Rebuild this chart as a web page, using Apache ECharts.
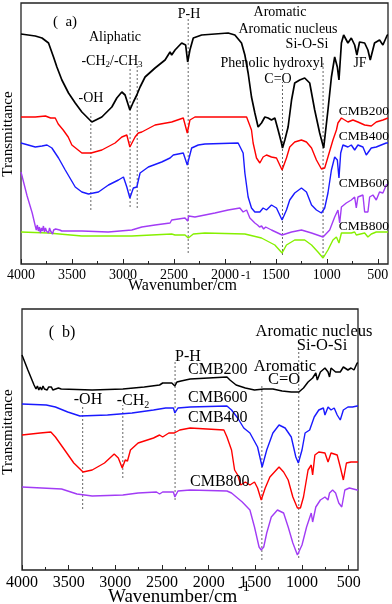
<!DOCTYPE html>
<html><head><meta charset="utf-8">
<script src="https://cdn.jsdelivr.net/npm/echarts/dist/echarts.min.js"></script>
<style>html,body{margin:0;padding:0;background:#fff}#c{width:392px;height:604px}</style>
</head><body><div id="c"></div>
<script>
// ---------- axis ticks ----------
const tickLabels = [4000, 3500, 3000, 2500, 2000, 1500, 1000, 500];
const minorTicks = [3750, 3250, 2750, 2250, 1750, 1250, 750];

// ---------- panel (a) ----------
const aJF = [[4000,230],[3860,228],[3794,226],[3730,221],[3681,207],[3648,197],[3599,184],[3534,171],[3468,161],[3403,152],[3305,142],[3207,147],[3109,157],[3060,166],[3011,172],[2979,169],[2932,154],[2898,162],[2864,169],[2832,177],[2783,187],[2685,196],[2587,204],[2538,212],[2522,209],[2489,214],[2424,221],[2385,219],[2365,202],[2343,214],[2310,226],[2228,229],[1968,231],[1902,229],[1837,221],[1804,209],[1772,191],[1739,167],[1706,151],[1674,137],[1641,141],[1608,147],[1576,146],[1543,144],[1510,146],[1478,134],[1445,121],[1435,116],[1412,124],[1380,137],[1346,164],[1315,181],[1266,184],[1217,186],[1168,181],[1119,154],[1070,131],[1031,116],[989,154],[955,187],[923,207],[897,197],[881,184],[857,221],[835,229],[793,221],[760,226],[727,219],[705,209],[679,222],[629,221],[597,214],[574,204],[532,221],[483,224],[450,219],[407,229],[400,229]];
const aCMB200 = [[4000,147],[3860,147],[3760,148],[3710,146],[3664,146],[3635,140],[3586,134],[3537,127],[3501,119],[3403,111],[3312,111],[3207,114],[3077,121],[3011,127],[2962,129],[2932,117],[2881,127],[2849,131],[2815,132],[2685,139],[2522,142],[2408,146],[2369,131],[2343,144],[2294,147],[1787,147],[1739,134],[1723,121],[1690,106],[1657,101],[1625,107],[1592,109],[1543,107],[1494,106],[1439,94],[1396,106],[1364,117],[1315,122],[1249,124],[1200,122],[1150,116],[1102,104],[1053,95],[1021,96],[989,107],[940,124],[906,134],[891,141],[857,146],[793,142],[744,144],[695,142],[629,139],[564,138],[515,142],[450,144],[400,146]];
const aCMB400 = [[4000,121],[3860,117],[3794,118],[3745,119],[3697,116],[3632,106],[3566,94],[3468,77],[3403,72],[3338,70],[3240,72],[3142,79],[3044,84],[2995,87],[2962,77],[2932,66],[2898,76],[2864,77],[2832,91],[2751,97],[2620,102],[2538,106],[2506,109],[2408,111],[2369,99],[2326,116],[2261,119],[2196,120],[1870,121],[1821,111],[1804,91],[1772,67],[1739,56],[1706,52],[1657,52],[1625,56],[1592,54],[1543,59],[1494,56],[1439,44],[1396,54],[1364,64],[1315,71],[1249,76],[1200,72],[1150,59],[1102,54],[1053,51],[1021,56],[989,71],[955,94],[923,107],[897,104],[881,86],[864,111],[842,119],[793,117],[760,119],[727,114],[695,119],[646,117],[613,109],[564,116],[515,117],[467,119],[417,121],[400,121]];
const aCMB600 = [[4000,92],[3940,68],[3890,51],[3860,38],[3850,34],[3840,39],[3830,33],[3820,37],[3810,31],[3800,36],[3790,33],[3780,38],[3770,32],[3760,36],[3750,33],[3740,35],[3730,31],[3720,36],[3710,33],[3700,35],[3690,30],[3680,34],[3670,32],[3660,35],[3650,33],[3620,34],[3600,33],[3403,33],[3145,32],[2913,34],[2815,37],[2685,39],[2538,41],[2522,44],[2391,46],[2365,43],[2355,48],[2343,49],[2294,47],[2098,51],[1968,54],[1853,56],[1821,52],[1787,54],[1755,46],[1706,41],[1680,39],[1660,37],[1640,38],[1620,35],[1600,37],[1543,34],[1439,29],[1346,32],[1249,34],[1150,31],[1037,27],[972,34],[923,47],[891,54],[874,41],[857,57],[809,61],[760,64],[727,67],[711,56],[695,67],[646,69],[629,52],[597,52],[580,67],[548,69],[515,64],[483,72],[450,71],[417,79],[400,80]];
const aCMB800 = [[4000,32],[3733,31],[3403,28],[2913,28],[2522,30],[2489,29],[2391,29],[2359,26],[2310,30],[2196,31],[1804,30],[1641,26],[1510,19],[1439,11],[1396,19],[1315,24],[1217,24],[1150,19],[1087,12],[1037,6],[989,14],[940,24],[906,27],[881,21],[857,31],[760,31],[727,32],[711,29],[629,31],[597,27],[564,30],[515,32],[400,32]];
const aBands = [[3315,54,151],[2930,57,197],[2860,56,199],[2360,11,246],[1435,9,182],[1037,7,202]];

// ---------- panel (b) ----------
const bCMB200 = [[4000,215],[3937,200],[3871,185],[3850,181],[3835,184],[3820,180],[3805,183],[3790,180],[3775,184],[3760,181],[3745,183],[3730,180],[3715,183],[3700,181],[3685,183],[3670,180],[3655,182],[3640,181],[3610,182],[3580,181],[3248,180],[2919,181],[2690,183],[2526,185],[2493,187],[2395,187],[2362,184],[2340,188],[2296,189],[2198,191],[1804,193],[1772,190],[1706,185],[1607,182],[1509,180],[1410,181],[1312,181],[1213,179],[1115,178],[1033,178],[984,182],[935,188],[886,192],[852,197],[836,190],[803,198],[754,202],[721,198],[705,193],[689,202],[640,198],[590,198],[557,203],[508,200],[475,202],[443,200],[409,207],[400,207]];
const bCMB600 = [[4000,166],[3740,165],[3642,163],[3510,158],[3379,154],[3084,155],[2821,157],[2591,160],[2461,162],[2378,162],[2362,157],[2329,162],[2198,163],[1804,164],[1755,160],[1689,152],[1624,142],[1558,137],[1476,123],[1427,103],[1378,120],[1312,137],[1246,145],[1181,142],[1115,133],[1066,113],[1039,107],[1000,120],[967,137],[918,140],[869,153],[820,160],[771,162],[754,155],[721,163],[689,160],[655,162],[623,155],[590,150],[557,160],[508,163],[459,163],[409,164],[400,164]];
const bCMB400 = [[4000,135],[3805,137],[3691,138],[3642,133],[3543,120],[3445,107],[3346,98],[3248,100],[3116,107],[3012,116],[2968,112],[2926,102],[2894,110],[2870,109],[2838,120],[2756,127],[2591,132],[2526,135],[2493,133],[2427,137],[2368,137],[2362,135],[2310,140],[2198,142],[1837,140],[1804,133],[1755,120],[1722,100],[1689,95],[1656,85],[1607,88],[1558,85],[1509,88],[1476,82],[1437,70],[1394,82],[1344,93],[1295,98],[1246,103],[1197,98],[1148,90],[1098,73],[1049,62],[1017,62],[984,73],[935,100],[901,105],[886,95],[862,115],[820,118],[754,117],[721,108],[689,117],[623,115],[590,103],[557,90],[524,107],[475,108],[400,108]];
const bCMB800 = [[4000,83],[3576,81],[3411,76],[3248,74],[2919,75],[2756,77],[2559,78],[2526,76],[2493,78],[2378,78],[2362,73],[2329,79],[2198,80],[1804,79],[1755,77],[1640,68],[1558,60],[1509,43],[1460,23],[1437,20],[1410,23],[1378,37],[1329,53],[1263,60],[1197,57],[1148,43],[1098,27],[1049,15],[1000,25],[951,43],[901,57],[886,48],[852,63],[803,70],[754,73],[721,70],[705,77],[672,80],[640,77],[606,67],[574,63],[541,80],[492,82],[409,80],[400,80]];
const bBands = [[3350,61,165],[2920,92,165],[2360,70,208],[1430,10,185],[1035,12,218]];

// ---------- build ----------
const FF = '"Liberation Serif","Times New Roman",serif';
const chart = echarts.init(document.getElementById('c'), null, {renderer: 'canvas'});

function mainX(gi, fs, margin) {
  return {type: 'value', gridIndex: gi, min: 400, max: 4000, inverse: true,
    axisLine: {show: false}, splitLine: {show: false},
    axisTick: {show: true, inside: true, length: 5, customValues: tickLabels, lineStyle: {color: '#222', width: 1}},
    axisLabel: {show: true, customValues: tickLabels, formatter: v => String(v), color: '#000', fontSize: fs, fontFamily: FF, margin: margin}};
}
function minorX(gi) {
  return {type: 'value', gridIndex: gi, min: 400, max: 4000, inverse: true, position: 'bottom',
    axisLine: {show: false}, splitLine: {show: false}, axisLabel: {show: false},
    axisTick: {show: true, inside: true, length: 3, customValues: minorTicks, lineStyle: {color: '#222', width: 1}}};
}
function yA(gi) {
  return {type: 'value', gridIndex: gi, min: 0, max: 261, axisLine: {show: false},
    axisTick: {show: false}, axisLabel: {show: false}, splitLine: {show: false}};
}
function ln(data, color, xi, yi, w) {
  return {type: 'line', data: data, xAxisIndex: xi, yAxisIndex: yi, symbol: 'none', showSymbol: false,
    lineStyle: {color: color, width: w || 1.4}, itemStyle: {color: color}, animation: false, silent: true, z: 3};
}
function bands(list, xi, yi) {
  return list.map(b => ({type: 'line', data: [[b[0], b[1]], [b[0], b[2]]], xAxisIndex: xi, yAxisIndex: yi,
    symbol: 'none', lineStyle: {color: '#666', width: 1, type: [2, 2]}, animation: false, silent: true, z: 2}));
}
function txt(x, y, s, size, align, extra) {
  return Object.assign({type: 'text', x: x, y: y, z: 10, style: {text: s, fill: '#000',
    font: size + 'px ' + FF, textAlign: align || 'center', textVerticalAlign: 'middle'}}, extra || {});
}
function richTxt(x, y, s, size, subSize, align) {
  return {type: 'text', x: x, y: y, z: 10, style: {text: s, textAlign: align || 'center', textVerticalAlign: 'middle',
    rich: {n: {fill: '#000', font: size + 'px ' + FF, lineHeight: size + 2},
           s: {fill: '#000', font: subSize + 'px ' + FF, lineHeight: subSize, verticalAlign: 'bottom'}}}};
}

const BLUE = '#1a1aff', PURPLE = '#a23cf5', GREEN = '#86f000', RED = '#ff0000';

const series = [].concat(
  bands(aBands, 0, 0),
  [ln(aCMB800, GREEN, 0, 0), ln(aCMB600, PURPLE, 0, 0), ln(aCMB400, BLUE, 0, 0), ln(aCMB200, RED, 0, 0), ln(aJF, '#000', 0, 0, 1.7)],
  bands(bBands, 2, 1),
  [ln(bCMB800, PURPLE, 2, 1), ln(bCMB400, RED, 2, 1), ln(bCMB600, BLUE, 2, 1), ln(bCMB200, '#000', 2, 1, 1.5)]
);

const graphic = [
  // panel a
  txt(65, 22, '(  a)', 15),
  txt(115, 37, 'Aliphatic', 14),
  richTxt(112, 61, '{n|-CH}{s|2}{n|/-CH}{s|3}', 14, 9),
  txt(91, 98, '-OH', 14),
  txt(189, 14, 'P-H', 14),
  txt(280, 12, 'Aromatic', 14),
  txt(288, 29, 'Aromatic nucleus', 14),
  txt(307, 44, 'Si-O-Si', 14),
  txt(272, 63, 'Phenolic hydroxyl', 14),
  txt(278, 79, 'C=O', 14),
  txt(360, 63, 'JF', 14),
  txt(389, 111, 'CMB200', 13.5, 'right'),
  txt(389, 136, 'CMB400', 13.5, 'right'),
  txt(389, 183, 'CMB600', 13.5, 'right'),
  txt(389, 226, 'CMB800', 13.5, 'right'),
  txt(8, 134, 'Transmittance', 15, 'center', {rotation: Math.PI / 2}),
  txt(128, 286, 'Wavenumber/cm', 16, 'left'),
  txt(241, 276, '-1', 12, 'left'),
  // panel b
  txt(62, 333, '(  b)', 16),
  txt(314, 332, 'Aromatic nucleus', 16.5),
  txt(322, 346, 'Si-O-Si', 16.5),
  txt(188, 357, 'P-H', 16),
  txt(188, 370, 'CMB200', 16, 'left'),
  txt(285, 367, 'Aromatic', 16.5),
  txt(284, 380, 'C=O', 16.5),
  txt(88, 400, '-OH', 16),
  richTxt(133, 401, '{n|-CH}{s|2}', 16, 10),
  txt(188, 398, 'CMB600', 16, 'left'),
  txt(188, 418, 'CMB400', 16, 'left'),
  txt(190, 482, 'CMB800', 16, 'left'),
  txt(8, 432, 'Transmittance', 15, 'center', {rotation: Math.PI / 2}),
  txt(108, 597, 'Wavenumber/cm', 19, 'left'),
  txt(238, 587, '-1', 14, 'left')
];

chart.setOption({
  animation: false,
  backgroundColor: '#fff',
  grid: [
    {left: 21, top: 3, width: 367, height: 261, show: true, borderColor: '#222', borderWidth: 1.3, backgroundColor: 'transparent'},
    {left: 22, top: 309, width: 366, height: 261, show: true, borderColor: '#222', borderWidth: 1.3, backgroundColor: 'transparent'}
  ],
  xAxis: [mainX(0, 14, 4), minorX(0), mainX(1, 16, 5), minorX(1)],
  yAxis: [yA(0), yA(1)],
  series: series,
  graphic: graphic
});
</script></body></html>
